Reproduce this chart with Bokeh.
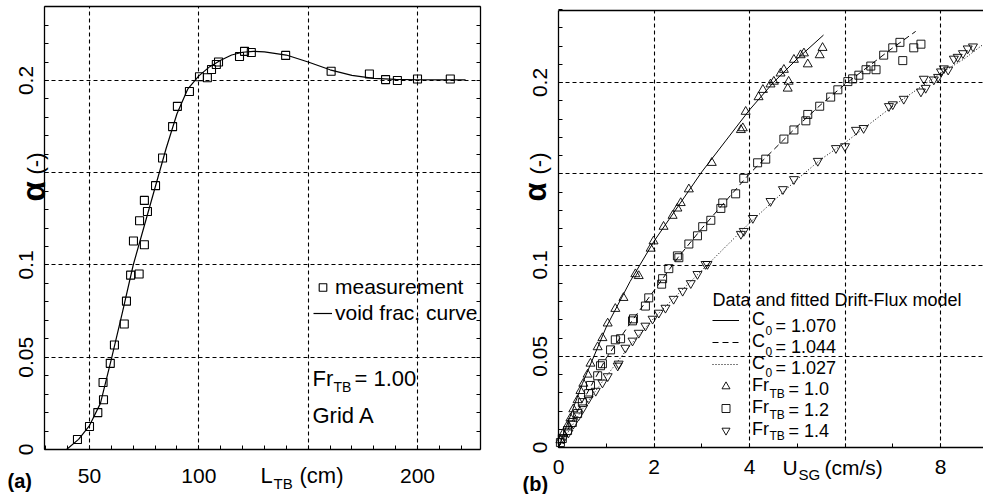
import math
from bokeh.plotting import figure
from bokeh.layouts import row
from bokeh.models import (FixedTicker, NumeralTickFormatter, LinearAxis, Label, Grid,
                          Legend, LegendItem, Range1d)
from bokeh.embed import file_html
from bokeh.resources import INLINE

FONT = "Liberation Sans"

# ---------------- Panel (a) data ----------------
meas_L = [44.5, 50.0, 53.8, 56.4, 56.2, 59.5, 61.4, 65.9, 66.9, 68.8, 72.7, 70.1, 75.1,
          72.9, 76.5, 75.1, 80.2, 83.4, 88.0, 90.2, 95.7, 100.3, 103.9, 105.8, 108.0,
          109.0, 118.6, 120.9, 124.0, 139.7, 160.5, 178.0, 185.4, 190.8, 200.0, 215.0]
meas_alpha = [0.0054, 0.0125, 0.020, 0.027, 0.0363, 0.0467, 0.0566, 0.068, 0.0804, 0.0945,
              0.0951, 0.113, 0.111, 0.124, 0.129, 0.135, 0.143, 0.158, 0.175, 0.186, 0.194,
              0.202, 0.2015, 0.206, 0.2087, 0.210, 0.213, 0.2158, 0.2152, 0.2136, 0.205,
              0.2035, 0.2005, 0.200, 0.2008, 0.2008]
curve_L = [39.5, 45, 50, 55, 60, 65, 70, 75, 80, 85, 90, 95, 100, 105, 110, 115, 120,
           125, 130, 140, 150, 160, 170, 180, 190, 200, 210, 222]
curve_alpha = [0.0, 0.0055, 0.013, 0.025, 0.049, 0.074, 0.100, 0.121, 0.142, 0.163, 0.182,
               0.1955, 0.2025, 0.2075, 0.211, 0.2138, 0.2153, 0.2158, 0.2155, 0.2138,
               0.2100, 0.2058, 0.2028, 0.2012, 0.2006, 0.2004, 0.2003, 0.2003]
a_box_x = (29.5, 229.0)
a_xticks = [50, 100, 200]
a_xgrid = [50, 100, 150, 200]
a_xminor = list(range(30, 230, 10))

y_ticks = [0, 0.05, 0.1, 0.2]
y_grid = [0.05, 0.1, 0.15, 0.2]
y_minor = [round(0.01 * i, 2) for i in range(0, 25)]

# ---------------- Panel (b) data ----------------
fr10_u = [0.04, 0.10, 0.19, 0.25, 0.31, 0.40, 0.46, 0.52, 0.61, 0.67, 0.82, 0.92, 1.03,
          1.19, 1.36, 1.61, 1.68, 1.93, 1.99, 2.20, 2.39, 2.49, 2.56, 2.73, 3.21, 3.82,
          3.86, 3.92, 4.19, 4.28, 4.44, 4.51, 4.65, 4.72, 4.80, 4.82, 4.93, 5.07, 5.14,
          5.22, 5.47, 5.53]
fr10_a = [0.004, 0.0077, 0.012, 0.016, 0.021, 0.026, 0.031, 0.035, 0.040, 0.046, 0.055,
          0.060, 0.068, 0.076, 0.082, 0.095, 0.094, 0.109, 0.113, 0.121, 0.127, 0.131,
          0.134, 0.1415, 0.156, 0.174, 0.175, 0.184, 0.192, 0.196, 0.199, 0.2005, 0.205,
          0.207, 0.1967, 0.2005, 0.2125, 0.215, 0.216, 0.210, 0.215, 0.219]
fr12_u = [0.04, 0.08, 0.19, 0.29, 0.40, 0.50, 0.63, 0.67, 0.82, 0.88, 0.92, 1.09, 1.19,
          1.30, 1.55, 1.57, 1.82, 1.89, 2.16, 2.18, 2.31, 2.49, 2.52, 2.73, 2.91, 3.02,
          3.19, 3.40, 3.44, 3.71, 3.88, 4.17, 4.34, 4.72, 4.93, 5.18, 5.22, 5.47, 5.70,
          5.85, 6.06, 6.16, 6.29, 6.44, 6.54, 6.65, 6.81, 7.00, 7.15, 7.21, 7.44, 7.59]
fr12_a = [0.0027, 0.0049, 0.0093, 0.0137, 0.0186, 0.0246, 0.0295, 0.034, 0.0393, 0.0448,
          0.0459, 0.0535, 0.059, 0.0596, 0.0694, 0.0705, 0.0775, 0.082, 0.0895, 0.0925,
          0.098, 0.105, 0.104, 0.1115, 0.116, 0.121, 0.1245, 0.131, 0.134, 0.139, 0.1475,
          0.156, 0.158, 0.169, 0.174, 0.179, 0.1825, 0.187, 0.192, 0.196, 0.2005, 0.202,
          0.204, 0.207, 0.209, 0.207, 0.215, 0.219, 0.222, 0.212, 0.219, 0.221]
fr14_u = [0.10, 0.21, 0.31, 0.42, 0.52, 0.63, 0.78, 0.92, 1.03, 1.24, 1.26, 1.40, 1.55,
          1.68, 1.82, 1.97, 2.10, 2.24, 2.41, 2.60, 2.77, 2.91, 3.08, 3.12, 3.82, 3.88,
          4.07, 4.44, 4.70, 4.93, 5.43, 5.81, 6.00, 6.23, 6.39, 6.92, 7.00, 7.23, 7.59,
          7.65, 7.69, 7.86, 7.95, 8.01, 8.07, 8.16, 8.28, 8.36, 8.47, 8.57, 8.68]
fr14_a = [0.0049, 0.0082, 0.013, 0.0175, 0.0219, 0.0268, 0.031, 0.0355, 0.039, 0.0448,
          0.0459, 0.0546, 0.0585, 0.0628, 0.0667, 0.0705, 0.0738, 0.0765, 0.0814, 0.0858,
          0.090, 0.095, 0.1005, 0.1005, 0.117, 0.1186, 0.1257, 0.135, 0.1415, 0.147,
          0.157, 0.164, 0.165, 0.174, 0.175, 0.187, 0.188, 0.191, 0.195, 0.202, 0.197,
          0.2016, 0.203, 0.206, 0.2077, 0.207, 0.213, 0.214, 0.216, 0.2186, 0.2197]
fit1_u = [0, 0.5, 1, 1.5, 2, 2.5, 3, 3.5, 4, 4.5, 5, 5.55]
fit1_a = [0, 0.035, 0.066, 0.091, 0.113, 0.132, 0.151, 0.168, 0.185, 0.200, 0.213, 0.226]
fit2_u = [0, 0.5, 1, 1.5, 2, 2.5, 3, 3.5, 4, 4.5, 5, 5.5, 6, 6.5, 7, 7.48]
fit2_a = [0, 0.025, 0.049, 0.068, 0.086, 0.104, 0.120, 0.135, 0.150, 0.163, 0.176, 0.188,
          0.199, 0.209, 0.219, 0.228]
fit3_u = [0, 0.5, 1, 1.5, 2, 2.5, 3, 3.5, 4, 4.5, 5, 5.5, 6, 6.5, 7, 7.5, 8, 8.5, 8.9]
fit3_a = [0, 0.021, 0.039, 0.056, 0.071, 0.084, 0.097, 0.110, 0.123, 0.135, 0.147, 0.158,
          0.167, 0.177, 0.187, 0.196, 0.205, 0.213, 0.221]
b_box_x = (0.0, 8.9)
b_xticks = [0, 2, 4, 8]
b_xgrid = [2, 4, 6, 8]
b_xminor = list(range(0, 10))

W1 = 495
W2 = 983 - W1
H = 494


def make_fig(width, xr, yr):
    p = figure(width=width, height=H, output_backend="svg", toolbar_location=None,
               x_range=Range1d(*xr), y_range=Range1d(*yr),
               x_axis_location=None, y_axis_location=None,
               min_border=0, min_border_left=0, min_border_right=0,
               min_border_top=0, min_border_bottom=0)
    p.center = []
    p.outline_line_color = None
    p.background_fill_color = "white"
    p.border_fill_color = "white"
    return p


def axis(p, side, loc, bounds, ticks, minor, xstandoff=12):
    ax = LinearAxis(fixed_location=loc, bounds=bounds,
                    ticker=FixedTicker(ticks=ticks, minor_ticks=minor))
    ax.axis_line_color = "black"
    ax.axis_line_width = 1.3
    ax.major_tick_in = 4
    ax.major_tick_out = 0
    ax.minor_tick_in = 4
    ax.minor_tick_out = 0
    ax.major_tick_line_color = "black"
    ax.minor_tick_line_color = "black"
    ax.major_label_text_font = FONT
    ax.major_label_text_font_size = "21px"
    ax.major_label_text_color = "black"
    if side in ("left", "right"):
        ax.major_label_orientation = "vertical"
        ax.formatter = NumeralTickFormatter(format="0.[00]")
        ax.major_label_standoff = 12
    else:
        ax.major_label_standoff = xstandoff
    p.add_layout(ax, side)
    return ax


def grids(p, xgrid, xbox, ytop):
    gx = Grid(dimension=0, ticker=FixedTicker(ticks=xgrid), cross_bounds=(0, ytop))
    gy = Grid(dimension=1, ticker=FixedTicker(ticks=y_grid), cross_bounds=xbox)
    for g in (gx, gy):
        g.grid_line_color = "black"
        g.grid_line_dash = "4 3"
        g.grid_line_width = 1.1
        p.add_layout(g, "center")


def txt(p, x, y, s, size, bold=False, angle=0.0):
    p.add_layout(Label(x=x, y=y, x_units="canvas", y_units="canvas", text=s,
                       text_font=FONT, text_font_size=f"{size}px",
                       text_font_style="bold" if bold else "normal",
                       text_color="black", angle=angle, text_align="left",
                       text_baseline="middle"))


# ---------------- Figure (a) ----------------
A_TOP = 0.2401
p1 = make_fig(W1, (9.30, 235.67), (-0.02439, 0.24336))
grids(p1, a_xgrid, a_box_x, A_TOP)
axis(p1, "left", a_box_x[0], (0, A_TOP), y_ticks, y_minor)
axis(p1, "below", 0, a_box_x, a_xticks, a_xminor, xstandoff=19)
axis(p1, "right", a_box_x[1], (0, A_TOP), [], y_minor)
axis(p1, "above", A_TOP, a_box_x, [], [])

r_curve = p1.line(curve_L, curve_alpha, line_color="black", line_width=1.2)
r_meas = p1.scatter(meas_L, meas_alpha, marker="square", size=8, fill_color=None,
                    line_color="black", line_width=1.1)
leg1 = Legend(items=[LegendItem(label="measurement", renderers=[r_meas]),
                     LegendItem(label="void frac. curve", renderers=[r_curve])],
              location=(313, 169), padding=0, margin=0, spacing=2,
              glyph_width=19, glyph_height=24, label_height=24, label_standoff=3,
              label_text_font=FONT, label_text_font_size="21px", label_text_color="black",
              background_fill_alpha=0, border_line_alpha=0)
p1.add_layout(leg1)

txt(p1, 33, 201, "\u03b1", 33, bold=True, angle=math.pi / 2)
txt(p1, 35, 174, "(-)", 22, angle=math.pi / 2)
txt(p1, 260, 475, "L", 22)
txt(p1, 273, 483, "TB", 15)
txt(p1, 299, 475, "(cm)", 22)
txt(p1, 312, 378, "Fr", 22)
txt(p1, 333, 386, "TB", 14)
txt(p1, 354, 378, "= 1.00", 22)
txt(p1, 312, 415, "Grid A", 22)
txt(p1, 7, 480, "(a)", 20, bold=True)

# ---------------- Figure (b) ----------------
B_TOP = 0.2395
p2 = make_fig(W2, (-1.3194, 8.9005), (-0.025753, 0.244932))
grids(p2, b_xgrid, b_box_x, B_TOP)
axis(p2, "left", b_box_x[0], (0, B_TOP), y_ticks, y_minor)
axis(p2, "below", 0, b_box_x, b_xticks, b_xminor)
axis(p2, "above", B_TOP, b_box_x, [], [])

l1 = p2.line(fit1_u, fit1_a, line_color="black", line_width=1.0)
l2 = p2.line(fit2_u, fit2_a, line_color="black", line_width=1.0, line_dash="6 4")
l3 = p2.line(fit3_u, fit3_a, line_color="black", line_width=1.0, line_dash="1 2")
s1 = p2.scatter(fr10_u, fr10_a, marker="triangle", size=9, fill_color=None,
                line_color="black", line_width=0.9)
s2 = p2.scatter(fr12_u, fr12_a, marker="square", size=8, fill_color=None,
                line_color="black", line_width=0.9)
s3 = p2.scatter(fr14_u, fr14_a, marker="inverted_triangle", size=9, fill_color=None,
                line_color="black", line_width=0.9)
leg2 = Legend(items=[LegendItem(label="C", renderers=[l1]),
                     LegendItem(label="C", renderers=[l2]),
                     LegendItem(label="C", renderers=[l3]),
                     LegendItem(label="Fr", renderers=[s1]),
                     LegendItem(label="Fr", renderers=[s2]),
                     LegendItem(label="Fr", renderers=[s3])],
              location=(217, 54), padding=0, margin=0, spacing=1,
              glyph_width=27, glyph_height=20, label_height=20, label_standoff=13,
              label_text_font=FONT, label_text_font_size="18px", label_text_color="black",
              background_fill_alpha=0, border_line_alpha=0)
p2.add_layout(leg2)

OX = W1  # page offset of figure (b)
txt(p2, 535 - OX, 201, "\u03b1", 31, bold=True, angle=math.pi / 2)
txt(p2, 538 - OX, 174, "(-)", 22, angle=math.pi / 2)
txt(p2, 782 - OX, 467, "U", 21)
txt(p2, 798 - OX, 474, "SG", 15)
txt(p2, 824 - OX, 467, "(cm/s)", 21)
txt(p2, 712 - OX, 299, "Data and fitted Drift-Flux model", 18)
for cy, val in ((325, "= 1.070"), (346, "= 1.044"), (367, "= 1.027")):
    txt(p2, 765 - OX, cy + 5, "0", 12)
    txt(p2, 775 - OX, cy, val, 18)
for cy, val in ((388, "= 1.0"), (409, "= 1.2"), (430, "= 1.4")):
    txt(p2, 769 - OX, cy + 5, "TB", 12)
    txt(p2, 788 - OX, cy, val, 18)
txt(p2, 522 - OX, 483, "(b)", 20, bold=True)

layout = row(p1, p2, spacing=0)
open("out.html", "w").write(file_html(layout, INLINE))
